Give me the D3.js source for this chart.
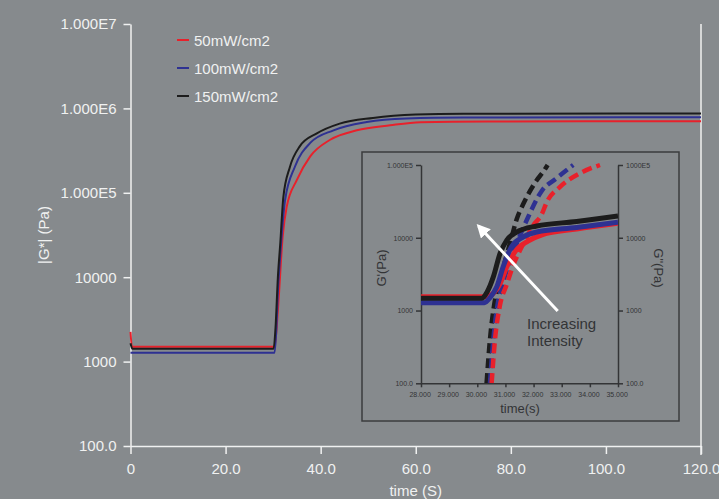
<!DOCTYPE html>
<html>
<head>
<meta charset="utf-8">
<script src="https://cdn.jsdelivr.net/npm/d3@7"></script>
<style>
body { margin: 0; background: #868a8d; }
svg { display: block; font-family: "Liberation Sans", Arial, sans-serif; }
</style>
</head>
<body>
<div id="chart"><svg class="diagram"></svg></div>
<script>
// main chart |G*| vs time, [time, value]
var series = ["50mW/cm2", "100mW/cm2", "150mW/cm2"];
var colors = ["#e8212b", "#2e3192", "#1c1c1c"];

var mainRed = [[0,2250],[0.3,1500],[30.3,1500],[30.8,2800],[31.2,6000],[32,30000],[32.85,68000],[35,142000],
    [37.8,270000],[42,425000],[47.6,550000],[54.6,630000],[61,685000],[75,700000],[120,705000]];
var mainBlue = [[0,1270],[30.3,1270],[30.7,2500],[31,6500],[31.5,18000],[32.5,81000],[34.6,205000],
    [37.8,390000],[42.7,550000],[49.7,690000],[58,760000],[70,780000],[120,785000]];
var mainBlack = [[0,1650],[0.4,1420],[30.1,1420],[30.5,2500],[31,10000],[31.5,25000],[32.15,89000],
    [33.5,200000],[35.6,355000],[39.2,506000],[44,660000],[51,770000],[60,845000],[70,865000],[120,870000]];

var mainXTicks = [0, 20, 40, 60, 80, 100, 120];
var mainXLabels = ["0", "20.0", "40.0", "60.0", "80.0", "100.0", "120.0"];
var mainYTicks = [100, 1000, 10000, 1e5, 1e6, 1e7];
var mainYLabels = ["100.0", "1000", "10000", "1.000E5", "1.000E6", "1.000E7"];

// inset: G' (solid) and G'' (dashed) vs time
var insetRedSolid = [[28,1550],[30.3,1550],[30.55,1700],[30.8,2300],[31.05,4000],[31.35,6500],[31.8,9000],
    [32.3,11000],[33.53,13200],[35,15800]];
var insetBlueSolid = [[28,1280],[30.25,1280],[30.45,1500],[30.69,2100],[30.92,4000],[31.22,7600],[31.64,10300],
    [32.11,12000],[33.53,13800],[35,16300]];
var insetBlackSolid = [[28,1470],[30.15,1470],[30.35,1800],[30.57,2900],[30.81,6100],[31.05,9300],[31.4,12000],
    [32.11,14500],[33.53,16700],[35,19900]];
var insetRedDash = [[30.51,100],[30.63,400],[30.8,1150],[31.05,2300],[31.28,4200],[31.58,7500],[32,15000],
    [32.29,21000],[32.47,31000],[32.94,50000],[33.65,77000],[34.36,100000]];
var insetBlueDash = [[30.45,100],[30.57,400],[30.72,1200],[30.9,2300],[31.1,4200],[31.46,9500],[31.8,19000],
    [32.29,44000],[32.82,66000],[33.41,100000]];
var insetBlackDash = [[30.33,100],[30.45,400],[30.6,1200],[30.8,2600],[31,5000],[31.2,9500],[31.4,18000],
    [31.65,30000],[32.05,57000],[32.41,88000],[32.5,100000]];

var insetXTicks = [28, 29, 30, 31, 32, 33, 34, 35];
var insetXLabels = ["28.000", "29.000", "30.000", "31.000", "32.000", "33.000", "34.000", "35.000"];
var insetYTicks = [100, 1000, 10000, 1e5];
var insetYLabelsLeft = ["100.0", "1000", "10000", "1.000E5"];
var insetYLabelsRight = ["100.0", "1000", "10000", "1000E5"];

var light = "#f0f1f1", dark = "#333436";

var svg = d3.select("#chart").select("svg").attr("width", 719).attr("height", 499);

/***********************************************************************************************************/
// main plot

var x = d3.scaleLinear().domain([0, 120]).range([130.5, 701]);
var y = d3.scaleLog().domain([100, 1e7]).range([446, 24]);

function styleAxis(g, color, fontSize) {
    g.selectAll("path, line").attr("stroke", color).attr("stroke-width", 1.5);
    g.selectAll("text").attr("fill", color).style("font-size", fontSize + "px")
      .style("font-family", "'Liberation Sans', Arial, sans-serif");
}

var xAxis = svg.append("g").attr("transform", "translate(0,446)")
    .call(d3.axisBottom(x).tickValues(mainXTicks).tickSizeInner(8).tickSizeOuter(0).tickPadding(9)
      .tickFormat(function(d, i){ return mainXLabels[i]; }));
styleAxis(xAxis, light, 15);

var yAxis = svg.append("g").attr("transform", "translate(130.5,0)")
    .call(d3.axisLeft(y).tickValues(mainYTicks).tickSizeInner(7).tickSizeOuter(0).tickPadding(7)
      .tickFormat(function(d, i){ return mainYLabels[i]; }));
styleAxis(yAxis, light, 15);

// right frame line
svg.append("line").attr("x1", 701).attr("x2", 701).attr("y1", 24).attr("y2", 455)
    .attr("stroke", light).attr("stroke-width", 1.5);

svg.append("text").attr("x", 415.7).attr("y", 496).attr("text-anchor", "middle")
    .style("font-size", "15px").attr("fill", light).text("time (S)");

svg.append("text").attr("transform", "translate(49,235) rotate(-90)").attr("text-anchor", "middle")
    .style("font-size", "15px").attr("fill", light).text("|G*| (Pa)");

var mainLine = d3.line().curve(d3.curveMonotoneX)
    .x(function(d){ return x(d[0]); })
    .y(function(d){ return y(d[1]); });

[mainRed, mainBlue, mainBlack].forEach(function(data, i){
    svg.append("path").datum(data).attr("d", mainLine)
      .attr("fill", "none").attr("stroke", colors[i]).attr("stroke-width", 2);
});

// legend
var legend = svg.append("g");
series.forEach(function(name, i){
    var ly = 40 + i * 28;
    legend.append("line").attr("x1", 177).attr("x2", 189).attr("y1", ly).attr("y2", ly)
      .attr("stroke", colors[i]).attr("stroke-width", 2);
    legend.append("text").attr("x", 194).attr("y", ly + 5.5).style("font-size", "15px")
      .attr("fill", light).text(name);
});

/***********************************************************************************************************/
// inset

var inset = svg.append("g");
inset.append("rect").attr("x", 362).attr("y", 152).attr("width", 317).attr("height", 269)
    .attr("fill", "#868a8d").attr("stroke", "#3b3c3e").attr("stroke-width", 1.5);

var ix = d3.scaleLinear().domain([28, 35]).range([421, 618]);
var iy = d3.scaleLog().domain([100, 1e5]).range([383.3, 165]);

var ixAxis = inset.append("g").attr("transform", "translate(0,383.3)")
    .call(d3.axisBottom(ix).tickValues(insetXTicks).tickSizeInner(4).tickSizeOuter(0).tickPadding(5)
      .tickFormat(function(d, i){ return insetXLabels[i]; }));
styleAxis(ixAxis, dark, 7);
ixAxis.selectAll("text").attr("dx", "-0.2em");

var iyAxis = inset.append("g").attr("transform", "translate(421,0)")
    .call(d3.axisLeft(iy).tickValues(insetYTicks).tickSizeInner(5).tickSizeOuter(0).tickPadding(3)
      .tickFormat(function(d, i){ return insetYLabelsLeft[i]; }));
styleAxis(iyAxis, dark, 7);

var iyAxisR = inset.append("g").attr("transform", "translate(618,0)")
    .call(d3.axisRight(iy).tickValues(insetYTicks).tickSizeInner(5).tickSizeOuter(0).tickPadding(3)
      .tickFormat(function(d, i){ return insetYLabelsRight[i]; }));
styleAxis(iyAxisR, dark, 7);

inset.append("text").attr("x", 520).attr("y", 413).attr("text-anchor", "middle")
    .style("font-size", "13px").attr("fill", dark).text("time(s)");
inset.append("text").attr("transform", "translate(386,268) rotate(-90)").attr("text-anchor", "middle")
    .style("font-size", "13px").attr("fill", dark).text("G'(Pa)");
inset.append("text").attr("transform", "translate(654,268) rotate(90)").attr("text-anchor", "middle")
    .style("font-size", "13px").attr("fill", dark).text("G\"(Pa)");

svg.append("clipPath").attr("id", "insetClip").append("rect")
    .attr("x", 421).attr("y", 160).attr("width", 197).attr("height", 223.3);

var insetLine = d3.line().curve(d3.curveMonotoneX)
    .x(function(d){ return ix(d[0]); })
    .y(function(d){ return iy(d[1]); });

var curves = inset.append("g").attr("clip-path", "url(#insetClip)");

[insetBlackDash, insetBlueDash, insetRedDash].forEach(function(data, i){
    curves.append("path").datum(data).attr("d", insetLine)
      .attr("fill", "none").attr("stroke", colors[2 - i]).attr("stroke-width", 4.5)
      .attr("stroke-dasharray", "10,5");
});

[insetRedSolid, insetBlueSolid, insetBlackSolid].forEach(function(data, i){
    curves.append("path").datum(data).attr("d", insetLine)
      .attr("fill", "none").attr("stroke", colors[i]).attr("stroke-width", 5)
      .attr("stroke-linejoin", "round");
});

// arrow
svg.append("defs").append("marker").attr("id", "arrowHead")
    .attr("viewBox", "0 0 10 10").attr("refX", 8).attr("refY", 5)
    .attr("markerWidth", 4.5).attr("markerHeight", 4.5).attr("orient", "auto")
  .append("path").attr("d", "M0,0 L10,5 L0,10 Z").attr("fill", "#ffffff");

inset.append("line").attr("x1", 557.7).attr("y1", 311).attr("x2", 478.5).attr("y2", 226)
    .attr("stroke", "#ffffff").attr("stroke-width", 3).attr("marker-end", "url(#arrowHead)");

inset.append("text").attr("x", 527).attr("y", 329).style("font-size", "15px")
    .attr("fill", dark).text("Increasing");
inset.append("text").attr("x", 527).attr("y", 346).style("font-size", "15px")
    .attr("fill", dark).text("Intensity");
</script>
</body>
</html>
